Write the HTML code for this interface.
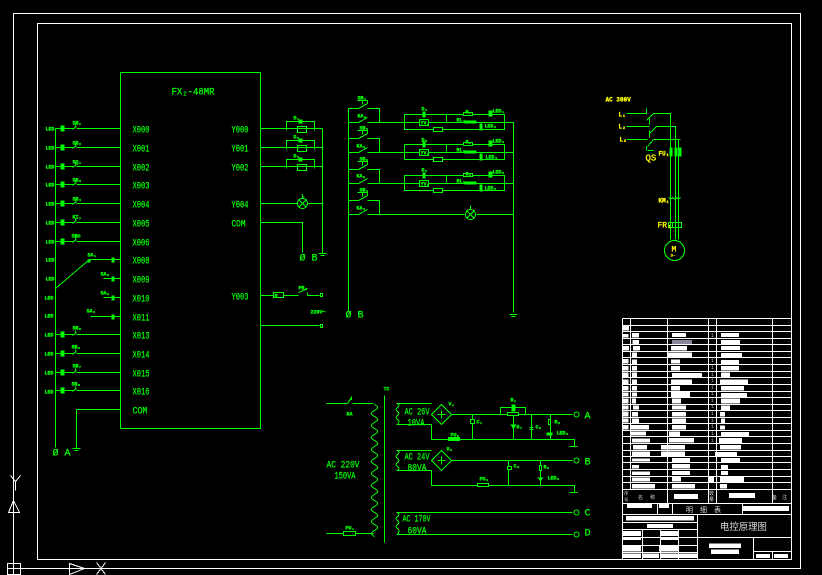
<!DOCTYPE html>
<html><head><meta charset="utf-8"><title>电控原理图</title>
<style>
html,body{margin:0;padding:0;background:#000;width:822px;height:575px;overflow:hidden}
svg{display:block}
text{font-family:"Liberation Mono","Noto Sans CJK SC",monospace;fill:#0f0;stroke:none}
.s text,text.s{font-size:5px;font-weight:bold;stroke:#0f0;stroke-width:.3}
.m text,text.m{font-size:10px;stroke:#0f0;stroke-width:.25}
.yy text{font-size:6px;font-weight:bold;fill:#ff0;stroke:#ff0;stroke-width:.3}
.y2{fill:#ff0!important;stroke:#ff0;stroke-width:.3}
.l{fill:none;stroke:#0f0;stroke-width:1}
.f{fill:#0f0;stroke:none}
</style></head><body>
<svg width="822" height="575" viewBox="0 0 822 575" xmlns="http://www.w3.org/2000/svg" shape-rendering="crispEdges">
<defs>
<g id="c"><path class="l" d="M55 0H74M76 0H120M72 1L76-2M75-2V-4"/><path class="f" d="M60-3H64V3H60z"/></g>
<g id="k"><path class="l" d="M286 0V-7H314V0M286 0V2M314 0V2"/><path class="f" d="M298-9H302V-5H298z"/><rect class="l" x="297" y="-2" width="9" height="6" fill="#000"/></g>
<g id="r"><path class="l" d="M404-8H504V7H404zM446-8V-1"/><path class="f" d="M422-11H425V-5H422zM488-12H492V-6H488zM479 1H482V8H479zM464-2H476V1H464z"/><rect x="419" y="-3" width="9" height="6" fill="#000" stroke="#0f0"/><rect x="433" y="5" width="9" height="4" fill="#000" stroke="#0f0"/><rect x="463" y="-10" width="9" height="3" fill="#000" stroke="#0f0"/></g>
<g id="sw"><path class="l" d="M348 0H358M358 0L367-5"/></g>
<g id="bt"><path class="l" d="M357-8H367V-5L362-2M362-8V-4"/></g>
<g id="gnd"><path class="l" d="M-4 0H4M-2 2H2"/></g>
</defs>

<g transform="translate(.5 .5)">
<!-- frames -->
<path fill="none" stroke="#fff" d="M13 13H800V568H13zM37 23H791V559H37z"/>
<!-- UCS -->
<g fill="none" stroke="#fff"><path d="M7 563H20V574H7zM13 563V574M7 568H20"/><path d="M10 475L15 481L20 475M15 481V490"/><path d="M13 500L8 512H19zM13 500V512"/><path d="M69 563L84 568L69 574zM69 568H84"/><path d="M96 562L105 574M105 562L96 574"/></g>

<!-- PLC -->
<path class="l" d="M120 72H260V428H120z"/>
<text class="m" x="171" y="94" textLength="43" lengthAdjust="spacingAndGlyphs">FX₂-48MR</text>
<g class="m">
<text x="132" y="132" textLength="17" lengthAdjust="spacingAndGlyphs">X000</text>
<text x="132" y="151" textLength="17" lengthAdjust="spacingAndGlyphs">X001</text>
<text x="132" y="170" textLength="17" lengthAdjust="spacingAndGlyphs">X002</text>
<text x="132" y="188" textLength="17" lengthAdjust="spacingAndGlyphs">X003</text>
<text x="132" y="207" textLength="17" lengthAdjust="spacingAndGlyphs">X004</text>
<text x="132" y="226" textLength="17" lengthAdjust="spacingAndGlyphs">X005</text>
<text x="132" y="245" textLength="17" lengthAdjust="spacingAndGlyphs">X006</text>
<text x="132" y="263" textLength="17" lengthAdjust="spacingAndGlyphs">X008</text>
<text x="132" y="282" textLength="17" lengthAdjust="spacingAndGlyphs">X009</text>
<text x="132" y="301" textLength="17" lengthAdjust="spacingAndGlyphs">X010</text>
<text x="132" y="320" textLength="17" lengthAdjust="spacingAndGlyphs">X011</text>
<text x="132" y="338" textLength="17" lengthAdjust="spacingAndGlyphs">X013</text>
<text x="132" y="357" textLength="17" lengthAdjust="spacingAndGlyphs">X014</text>
<text x="132" y="376" textLength="17" lengthAdjust="spacingAndGlyphs">X015</text>
<text x="132" y="394" textLength="17" lengthAdjust="spacingAndGlyphs">X016</text>
<text x="132" y="413" textLength="15" lengthAdjust="spacingAndGlyphs">COM</text>
<text x="231" y="132" textLength="17" lengthAdjust="spacingAndGlyphs">Y000</text>
<text x="231" y="151" textLength="17" lengthAdjust="spacingAndGlyphs">Y001</text>
<text x="231" y="170" textLength="17" lengthAdjust="spacingAndGlyphs">Y002</text>
<text x="231" y="207" textLength="17" lengthAdjust="spacingAndGlyphs">Y004</text>
<text x="231" y="226" textLength="14" lengthAdjust="spacingAndGlyphs">COM</text>
<text x="231" y="299" textLength="17" lengthAdjust="spacingAndGlyphs">Y003</text>
</g>

<!-- left inputs -->
<path class="l" d="M55 128V447M76 409V448M76 409H120M120 259H89L55 288M103 278H120M103 297H120M90 316H120"/>
<use href="#gnd" x="76" y="448"/>
<use href="#c" y="128"/><use href="#c" y="147"/><use href="#c" y="166"/><use href="#c" y="184"/><use href="#c" y="203"/><use href="#c" y="222"/><use href="#c" y="241"/><use href="#c" y="334"/><use href="#c" y="353"/><use href="#c" y="372"/><use href="#c" y="390"/>
<path class="f" d="M111 257H114V262H111zM111 276H114V281H111zM111 295H114V300H111zM111 314H114V319H111zM87 259H90V262H87z"/>
<g class="s">
<text x="45" y="130">LED</text><text x="45" y="149">LED</text><text x="45" y="168">LED</text><text x="45" y="186">LED</text><text x="45" y="205">LED</text><text x="45" y="224">LED</text><text x="45" y="243">LED</text><text x="45" y="261">LED</text><text x="45" y="280">LED</text><text x="44" y="299">LED</text><text x="44" y="317">LED</text><text x="44" y="336">LED</text><text x="44" y="355">LED</text><text x="44" y="374">LED</text><text x="44" y="393">LED</text>
<text x="72" y="124">SB₁</text><text x="72" y="144">SB₂</text><text x="72" y="163">SQ₁</text><text x="72" y="181">SB₃</text><text x="72" y="200">SB₄</text><text x="72" y="218">KI₁</text><text x="71" y="237">SBn</text>
<text x="87" y="256">SA₁</text><text x="100" y="275">SA₂</text><text x="100" y="294">SA₃</text><text x="86" y="312">SA₄</text>
<text x="72" y="329">SB₅</text><text x="71" y="348">SB₆</text><text x="72" y="367">SB₇</text><text x="71" y="385">SB₈</text>
</g>
<text class="m" x="52" y="455">Ø A</text>

<!-- right outputs -->
<path class="l" d="M260 128H322V253M260 147H323M260 166H323M260 203H297M307 203H323M260 222H302V252M260 295H273M283 295H298M307 295H319M260 325H319M298 292L307 288M307 292V295"/>
<use href="#k" y="128"/><use href="#k" y="147"/><use href="#k" y="166"/>
<circle class="l" cx="302" cy="203" r="5"/><path class="l" d="M298 199L306 207M306 199L298 207"/>
<rect class="l" x="273" y="292" width="10" height="5"/>
<rect class="l" x="320" y="293" width="2" height="3"/><rect class="l" x="320" y="324" width="2" height="3"/>
<use href="#gnd" x="322" y="253"/>
<g class="s"><text x="293" y="119">D₁</text><text x="293" y="138">D₂</text><text x="293" y="157">D₃</text><text x="301" y="197">L</text><text x="298" y="289">PR₁</text><text x="310" y="313">220V~</text><text x="274" y="297">R</text></g>
<text class="m" x="299" y="260">Ø B</text>

<!-- middle ladder -->
<path class="l" d="M348 108V312M513 122V312M348 108H358M367 108H379V122M348 138H358M367 138H379V152M348 169H358M367 169H379V183M348 200H358M367 200H379V214M367 122H513M367 152H513M367 183H513M367 214H464M476 214H513M358 108L367 103M358 138L367 133M358 169L367 164M358 200L367 195"/>
<use href="#bt" y="108"/><use href="#bt" y="138"/><use href="#bt" y="169"/><use href="#bt" y="200"/>
<use href="#sw" y="122"/><use href="#sw" y="152"/><use href="#sw" y="183"/><use href="#sw" y="214"/>
<use href="#r" y="122"/><use href="#r" y="152"/><use href="#r" y="183"/>
<circle class="l" cx="470" cy="214" r="5"/><path class="l" d="M466 210L474 218M474 210L466 218M470 205V209"/>
<path class="l" d="M509 314H517M511 316H515"/>
<g class="s">
<text x="357" y="99">SB₁</text><text x="357" y="117">KA₁</text><text x="359" y="129">SB₂</text><text x="356" y="147">KA₂</text><text x="359" y="160">SB₃</text><text x="356" y="177">KA₃</text><text x="359" y="191">SB₄</text><text x="356" y="209">KA₄</text>
<text x="421" y="110">D₄</text><text x="421" y="141">D₅</text><text x="421" y="171">D₆</text>
<text x="420" y="124">YV₁</text><text x="420" y="154">YV₂</text><text x="420" y="185">YV₃</text>
<text x="456" y="121">RL₁</text><text x="456" y="151">RL₂</text><text x="456" y="182">RL₃</text>
<text x="465" y="113">R₁</text><text x="465" y="143">R₂</text><text x="465" y="175">R₃</text>
<text x="492" y="112">LED₁</text><text x="492" y="142">LED₃</text><text x="492" y="173">LED₅</text>
<text x="484" y="127">LED₂</text><text x="485" y="158">LED₄</text><text x="484" y="189">LED₆</text>
</g>
<text class="m" x="345" y="317">Ø B</text>

<!-- motor -->
<path class="l" d="M626 113H646V108M653 113H670V239M626 126H649M656 126H675V239M626 139H647M653 139H680M678 139V239M646 120L653 113M649 133L656 126M647 146L653 139M649 118V124M649 130V137M646 146V150M647 150H653"/>
<path class="f" d="M669 147H672V156H669zM674 147H677V156H674zM678 147H681V156H678z"/>
<path class="l" d="M668 197Q670 200 672 197Q674 200 676 197Q678 200 680 197M668 222H681V227H668zM672 222V227"/>
<circle class="l" cx="674" cy="250" r="10"/>
<g class="yy">
<text x="605" y="101">AC 380V</text>
<text x="618" y="116">L₁</text><text x="618" y="128">L₂</text><text x="619" y="141">L₃</text>
<text x="658" y="155">FU₁</text><text x="658" y="202">KM₁</text>
</g>
<text class="y2" x="645" y="160" style="font-size:9px">QS</text>
<text class="y2" x="657" y="227" style="font-size:8px">FR₁</text>
<text class="y2" x="671" y="251" style="font-size:8px">M</text>
<text class="y2" x="670" y="256" style="font-size:4px">3~</text>

<!-- transformer -->
<path class="l" d="M326 403H347M352 403H373M326 533H343M355 533H373M384 395V542M343 531H355V535H343zM347 403L351 397V399H350"/>
<path class="l" d="M374 404q6 3 0 6q-6 3 0 6q6 3 0 6q-6 3 0 6q6 3 0 6q-6 3 0 6q6 3 0 6q-6 3 0 6q6 3 0 6q-6 3 0 6q6 3 0 6q-6 3 0 6q6 3 0 6q-6 3 0 6q6 3 0 6q-6 3 0 6q6 3 0 6q-6 3 0 6q6 3 0 6q-6 3 0 6q6 3 0 6q-6 3 0 6"/>
<path class="l" d="M396 403H431M396 424H431M397 403q3 2 0 4q-3 2 0 4q3 2 0 4q-3 2 0 4q3 2 0 5M396 450H431M396 470H431M397 450q3 2 0 4q-3 2 0 4q3 2 0 4q-3 2 0 4q3 2 0 4M396 512H572M396 534H572M397 512q3 2 0 4q-3 2 0 4q3 2 0 4q-3 2 0 4q3 2 0 6"/>
<path class="l" d="M431 414L441 404L451 414L441 424zM431 460L441 450L451 460L441 470zM437 414H445M441 410V418M437 460H445M441 456V464"/>
<path class="l" d="M431 424V439H574V446M451 414H572M431 470V485H574V492M451 460H572"/>
<path class="l" d="M500 414V407H525V414M472 414V439M513 414V439M531 414V439M550 414V439M508 460V485M540 460V485"/>
<rect class="l" x="507" y="412" width="11" height="3" fill="#000" style="fill:#000"/>
<rect x="470" y="419" width="4" height="4" fill="#000" stroke="#0f0"/>
<rect x="548" y="419" width="2" height="5" fill="#000" stroke="#0f0"/>
<rect x="448" y="437" width="11" height="3" fill="#0f0" stroke="#0f0"/>
<rect x="507" y="466" width="4" height="3" fill="#000" stroke="#0f0"/>
<rect x="539" y="465" width="2" height="5" fill="#000" stroke="#0f0"/>
<rect x="477" y="483" width="11" height="3" fill="#000" stroke="#0f0"/>
<path class="l" d="M569 446H577M569 492H577M529 427H533M529 429H533"/>
<path class="f" d="M511 404H515V411H511zM510 424H516L513 429zM546 432H552V435H546zM537 477H543L540 481z"/>
<g fill="none" stroke="#0f0"><circle cx="576" cy="414" r="2.5"/><circle cx="576" cy="460" r="2.5"/><circle cx="576" cy="512" r="2.5"/><circle cx="576" cy="534" r="2.5"/></g>
<g class="s">
<text x="383" y="390">TC</text><text x="346" y="415">KA</text><text x="345" y="529">FU₁</text>
<text x="448" y="405">V₁</text><text x="446" y="450">U₂</text>
<text x="510" y="401">R₁</text><text x="476" y="423">C₁</text><text x="516" y="428">D₇</text><text x="535" y="428">C₂</text><text x="554" y="423">R₂</text><text x="556" y="434">LED₈</text>
<text x="450" y="436">FU₂</text><text x="513" y="467">C₃</text><text x="543" y="468">R₃</text><text x="547" y="479">LED₉</text><text x="479" y="480">FU₃</text>
</g>
<g class="m">
<text x="326" y="467" textLength="33" lengthAdjust="spacingAndGlyphs">AC 220V</text>
<text x="334" y="478" textLength="21" lengthAdjust="spacingAndGlyphs">150VA</text>
<text x="404" y="414" textLength="25" lengthAdjust="spacingAndGlyphs">AC 26V</text>
<text x="407" y="425" textLength="17" lengthAdjust="spacingAndGlyphs">10VA</text>
<text x="404" y="459" textLength="25" lengthAdjust="spacingAndGlyphs">AC 24V</text>
<text x="407" y="470" textLength="19" lengthAdjust="spacingAndGlyphs">80VA</text>
<text x="402" y="521" textLength="28" lengthAdjust="spacingAndGlyphs">AC 170V</text>
<text x="407" y="533" textLength="19" lengthAdjust="spacingAndGlyphs">60VA</text>
<text x="584" y="418">A</text><text x="584" y="464">B</text><text x="584" y="515">C</text><text x="584" y="535">D</text>
</g>

<!-- title block grid -->
<path fill="none" stroke="#fff" d="M622 318H791M622 325H791M622 331H791M622 338H791M622 344H791M622 351H791M622 357H791M622 364H791M622 371H791M622 377H791M622 384H791M622 391H791M622 397H791M622 404H791M622 410H791M622 417H791M622 423H791M622 430H791M622 436H791M622 443H791M622 450H791M622 456H791M622 462H791M622 469H791M622 476H791M622 482H791M622 489H791M622 503H791M622 514H791M622 318V559M630 318V489M667 318V503M708 318V503M716 318V503M772 318V503M672 503V514M742 503V514M697 514V559M622 522H697M622 529H697M697 537H791M753 537V559M753 551H791M772 551V559M642 529V559M660 529V559M678 529V559M622 537H697M622 545H697M622 552H697M657 503V514"/>
</g>
<!-- bars in zoom coordinates -->
<g transform="translate(615 310) scale(.3333)" fill="#fff">
<path d="M24 48H42V62H24zM24 72H40V83H24zM24 108H42V122H24zM24 147H40V161H24zM24 168H40V181H24zM24 187H40V202H24zM24 208H40V222H24zM24 228H40V241H24zM24 247H40V260H24zM24 266H40V280H24zM24 286H40V299H24zM24 305H40V319H24zM24 325H40V338H24zM24 345H40V358H24z"/>
<path d="M51 69H72V83H51zM52 90H72V102H52zM54 108H75V122H54zM51 128H66V141H51zM51 149H66V162H51zM51 168H66V181H51zM51 188H66V202H51zM51 209H66V222H51zM51 228H66V241H51zM51 247H66V260H51zM51 266H63V280H51zM54 287H72V299H54zM51 306H69V319H51zM51 326H72V339H51zM48 345H102V358H48zM48 365H93V377H48z"/>
<path d="M171 69H213V81H171zM168 108H216V122H168zM159 128H231V141H159zM168 148H195V161H168zM168 168H195V181H168zM171 189H261V202H171zM168 208H231V222H168zM168 228H195V241H168zM168 246H225V261H168zM171 266H198V280H171zM171 286H213V299H171zM171 306H213V319H171zM171 325H213V339H171zM171 345H213V358H171zM162 365H195V378H162z"/>
<path fill="#889" d="M171 90H231V102H171z"/>
<path d="M318 69H372V81H318zM318 90H375V102H318zM318 108H375V120H318zM318 129H381V141H318zM318 150H372V162H318zM318 168H372V181H318zM318 187H345V202H318zM315 208H399V222H315zM318 228H387V241H318zM318 249H396V261H318zM318 266H375V280H318zM318 286H345V300H318zM315 306H330V319H315zM318 326H330V339H318zM315 347H330V358H315zM318 366H402V378H318z"/>
</g>
<g transform="translate(615 430) scale(.3333)" fill="#fff">
<path d="M51 25H105V38H51zM54 45H96V58H54zM51 65H105V78H51zM51 85H105V95H51zM51 105H72V116H51zM51 125H105V135H51zM51 143H105V155H51zM51 162H120V175H51z"/>
<path d="M162 24H237V37H162zM138 45H210V58H138zM138 64H210V78H138zM171 84H225V96H171zM171 102H225V116H171zM171 123H225V135H171zM171 141H198V155H171zM171 162H240V175H171zM177 192H249V207H177z"/>
<path d="M312 24H381V40H312zM315 45H378V58H315zM300 66H366V78H300zM318 84H375V96H318zM318 105H339V118H318zM318 123H339V135H318zM315 141H387V157H315zM315 162H336V175H315zM342 189H420V204H342z"/>
<path d="M36 219H111V234H36zM132 219H162V234H132zM384 228H522V243H384zM33 258H237V271H33zM96 282H174V294H96z"/>
<path d="M24 303H78V318H24zM138 303H189V318H138zM24 324H78V330H24zM138 324H189V330H138zM24 348H78V364H24zM132 348H189V364H132zM24 370H78V384H24zM81 370H132V384H81zM138 370H189V384H138zM192 370H246V384H192z"/>
<path d="M282 340H378V354H282zM288 358H372V372H288zM423 372H465V384H423zM477 372H519V384H477z"/>
<path d="M282 139H297V157H282z"/>
</g>
<g>
<text x="720" y="530" style="font-size:9.4px;fill:#ddd">电控原理图</text>
<text x="686" y="512" style="font-size:7px;letter-spacing:7px;fill:#ddd">明细表</text>
<text x="638" y="499" style="font-size:5px;letter-spacing:7px;fill:#ccc">名称</text>
<text x="772" y="499" style="font-size:5px;letter-spacing:5px;fill:#ccc">备注</text>
<text x="624" y="495" style="font-size:4.5px;fill:#ccc">序</text>
<text x="624" y="501" style="font-size:4.5px;fill:#ccc">号</text>
<text x="709" y="495" style="font-size:5px;fill:#ccc">数</text>
<text x="709" y="501" style="font-size:5px;fill:#ccc">量</text>
<text x="711" y="337" style="font-size:5px;fill:#bbb">1</text>
<text x="711" y="362" style="font-size:5px;fill:#bbb">1</text>
<text x="711" y="369" style="font-size:5px;fill:#bbb">1</text>
<text x="711" y="376" style="font-size:5px;fill:#bbb">1</text>
<text x="711" y="382" style="font-size:5px;fill:#bbb">1</text>
<text x="711" y="389" style="font-size:5px;fill:#bbb">1</text>
<text x="711" y="395" style="font-size:5px;fill:#bbb">1</text>
<text x="711" y="402" style="font-size:5px;fill:#bbb">1</text>
<text x="711" y="408" style="font-size:5px;fill:#bbb">1</text>
<text x="711" y="415" style="font-size:5px;fill:#bbb">1</text>
<text x="711" y="422" style="font-size:5px;fill:#bbb">1</text>
<text x="711" y="428" style="font-size:5px;fill:#bbb">1</text>
<text x="711" y="435" style="font-size:5px;fill:#bbb">1</text>
<text x="711" y="442" style="font-size:5px;fill:#bbb">1</text>
</g>
</svg>
</body></html>
